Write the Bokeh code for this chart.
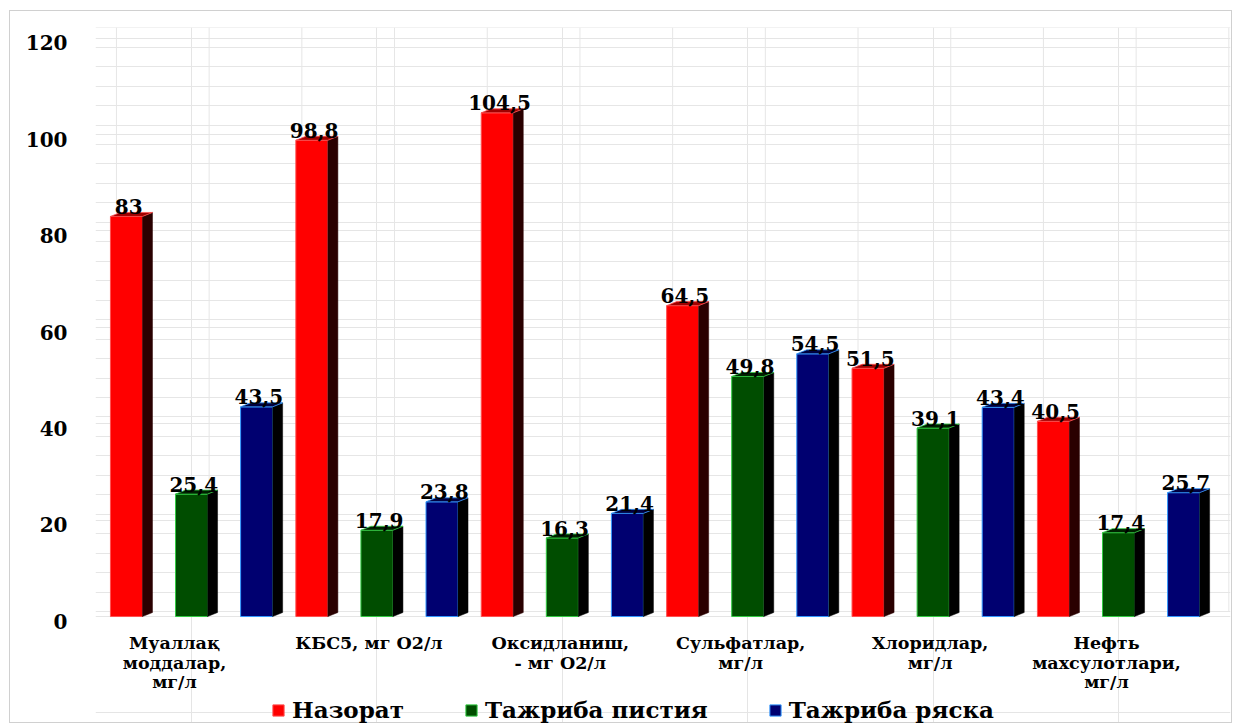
from bokeh.plotting import figure
from bokeh.models import (Range1d, LinearAxis, FixedTicker, SingleIntervalTicker,
                          ColumnDataSource, Legend, LegendItem, Grid)
from bokeh.embed import file_html
from bokeh.resources import INLINE
from bokeh.core.properties import value

# ---------------- data ----------------
categories = ["Муаллақ\nмоддалар,\nмг/л", "КБС5, мг О2/л", "Оксидланиш,\n- мг О2/л",
              "Сульфатлар,\nмг/л", "Хлоридлар,\nмг/л", "Нефть\nмахсулотлари,\nмг/л"]
series_names = ["Назорат", "Тажриба пистия", "Тажриба ряска"]
nazorat = [83, 98.8, 104.5, 64.5, 51.5, 40.5]
pistia = [25.4, 17.9, 16.3, 49.8, 39.1, 17.4]
ryaska = [43.5, 23.8, 21.4, 54.5, 43.4, 25.7]
y_tick_values = [0, 20, 40, 60, 80, 100, 120]

# ---------------- style ----------------
FONT = "DejaVu Serif"
front_colors = ["#ff0000", "#004d00", "#000070"]
edge_colors = ["#ff5050", "#33cc44", "#3399ff"]
side_colors = ["#2a0000", "#000000", "#000000"]
top_colors = ["#a00000", "#002000", "#000040"]
offsets = [-0.351, 0.0, 0.351]
label_shift = [-0.092, -0.043, -0.011, -0.038, -0.016, -0.065]  # perspective shift of category labels
bar_w = 0.1727
dx = 0.054   # 3D depth in x
dy = 0.83    # 3D depth in y
GRID = "#e6e6e6"

p = figure(width=1223, height=713,
           x_range=Range1d(-0.518, 5.604), y_range=Range1d(-22.4, 122.2),
           output_backend="svg", toolbar_location=None,
           x_axis_location=None, y_axis_location=None,
           min_border_left=85, min_border_right=3,
           min_border_top=16, min_border_bottom=0)
p.outline_line_color = None
p.background_fill_color = "white"
p.border_fill_color = "white"
p.styles = {"border": "1px solid #d0d0d0", "margin-left": "9px", "margin-top": "10px"}

p.extra_y_ranges = {"lab": Range1d(-21.4, 123.2), "wall": Range1d(-23.22, 120.05)}

# back wall grid
wall_grid = Grid(dimension=1, ticker=SingleIntervalTicker(interval=4),
                 y_range_name="wall", grid_line_color=GRID, bounds=(0, 120))
p.add_layout(wall_grid)
vx = [-0.405 + 0.5 * k for k in range(13)]
p.segment(x0=vx, x1=vx, y0=[0] * len(vx), y1=[120.05] * len(vx),
          y_range_name="wall", line_color=GRID, line_width=1, level="underlay")

# y axis (labels)
yax = LinearAxis(y_range_name="lab", ticker=FixedTicker(ticks=y_tick_values))
yax.axis_line_color = None
yax.major_tick_line_color = None
yax.minor_tick_line_color = None
yax.major_tick_out = 0
yax.major_tick_in = 0
yax.major_label_standoff = 28
yax.major_label_text_font = FONT
yax.major_label_text_font_style = "bold"
yax.major_label_text_font_size = "20px"
yax.major_label_text_color = "black"
p.add_layout(yax, "left")

# category labels under the groups
p.text(x=[i + label_shift[i] for i in range(len(categories))], y=[-3.4] * len(categories),
       text=categories, text_align="center", text_baseline="top", text_line_height=0.98,
       text_font=value(FONT), text_font_style="bold", text_font_size="17.5px",
       text_color="black")

legend_items = []
all_series = [nazorat, pistia, ryaska]
for s, vals in enumerate(all_series):
    xs = [i + offsets[s] for i in range(len(vals))]
    src = ColumnDataSource(dict(x=xs, top=vals))
    front = p.vbar(x="x", top="top", bottom=0, width=bar_w, source=src,
                   fill_color=front_colors[s], line_color=edge_colors[s], line_width=1)
    side_xs, side_ys, top_xs, top_ys = [], [], [], []
    for x, v in zip(xs, vals):
        xl, xr = x - bar_w / 2, x + bar_w / 2
        side_xs.append([xr, xr + dx, xr + dx, xr])
        side_ys.append([0, dy, v + dy, v])
        top_xs.append([xl, xr, xr + dx, xl + dx])
        top_ys.append([v, v, v + dy, v + dy])
    p.patches(side_xs, side_ys, fill_color=side_colors[s], line_color=side_colors[s], line_width=0.5)
    p.patches(top_xs, top_ys, fill_color=top_colors[s], line_color=edge_colors[s], line_width=0.8)
    labels = [f"{v:g}".replace(".", ",") for v in vals]
    p.text(x=[x + 0.012 for x in xs], y=[v + dy * 0.6 for v in vals], text=labels,
           text_align="center", text_baseline="bottom",
           text_font=value(FONT), text_font_style="bold", text_font_size="20px",
           text_color="black")
    legend_items.append(LegendItem(label=series_names[s], renderers=[front]))

legend = Legend(items=legend_items, orientation="horizontal", location=(176, 1))
legend.label_text_font = FONT
legend.label_text_font_style = "bold"
legend.label_text_font_size = "23px"
legend.label_text_color = "black"
legend.glyph_width = 14
legend.glyph_height = 14
legend.label_standoff = 7
legend.spacing = 60
legend.padding = 2
legend.margin = 0
legend.border_line_color = None
legend.background_fill_alpha = 0
p.add_layout(legend, "center")

open("out.html", "w").write(file_html(p, INLINE))
